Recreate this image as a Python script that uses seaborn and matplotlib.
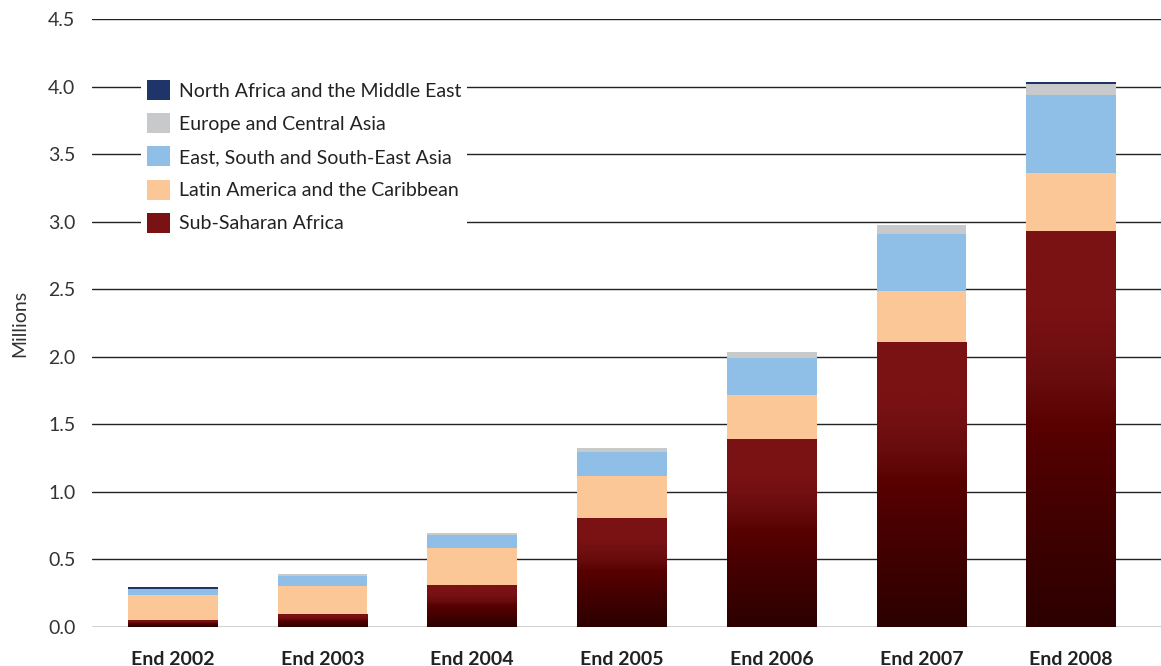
import numpy as np
import pandas as pd
import matplotlib
matplotlib.use("Agg")
import matplotlib.pyplot as plt
import seaborn as sns
from matplotlib.patches import Patch
from matplotlib.colors import LinearSegmentedColormap

# Datos (millones de personas)
periodos = ['End 2002', 'End 2003', 'End 2004', 'End 2005', 'End 2006', 'End 2007', 'End 2008']
africa_subsahariana = [0.050, 0.096, 0.306, 0.805, 1.385, 2.106, 2.924]
america_latina = [0.187, 0.210, 0.281, 0.316, 0.335, 0.378, 0.439]
asia_este_sur = [0.043, 0.074, 0.094, 0.175, 0.270, 0.427, 0.572]
europa_asia_central = [0.000, 0.013, 0.015, 0.030, 0.047, 0.062, 0.085]
africa_norte_medio_oriente = [0.014, 0.000, 0.000, 0.000, 0.000, 0.000, 0.017]

regiones = ['Sub-Saharan Africa', 'Latin America and the Caribbean',
            'East, South and South-East Asia', 'Europe and Central Asia',
            'North Africa and the Middle East']
colores = ['#7a1214', '#fcc797', '#8fbfe7', '#c8c9cb', '#1f3569']

Datos = pd.DataFrame({
    'periodo': periodos,
    regiones[0]: africa_subsahariana,
    regiones[1]: america_latina,
    regiones[2]: asia_este_sur,
    regiones[3]: europa_asia_central,
    regiones[4]: africa_norte_medio_oriente,
})

# Acumulados para apilar (se dibuja del total hacia abajo)
acumulado = Datos[regiones].cumsum(axis=1)

sns.set_style("white")
plt.rcParams['font.family'] = ['Lato', 'DejaVu Sans']

fig = plt.figure(figsize=(11.61, 6.66), dpi=100)
ax = fig.add_axes([92 / 1161, 1 - 627 / 666, 1 - 92 / 1161, (627 - 19) / 666])

for i in range(len(regiones) - 1, -1, -1):
    sns.barplot(x=Datos['periodo'], y=acumulado[regiones[i]], color=colores[i],
                saturation=1, width=0.6, ax=ax, zorder=2, linewidth=0, edgecolor='none')

# Degradado en Sub-Saharan Africa
cmap_ssa = LinearSegmentedColormap.from_list(
    'ssa', [(0.0, '#2c0000'), (0.2, '#3c0000'), (0.32, '#460000'), (0.5, '#570000'),
            (0.62, '#680c0e'), (0.8, '#7a1214'), (1.0, '#7a1214')], N=1024)
gradiente = np.linspace(0, 1, 1024).reshape(-1, 1)
for p in ax.patches[-len(periodos):]:
    x0, w, h = p.get_x(), p.get_width(), p.get_height()
    ax.imshow(gradiente, cmap=cmap_ssa, origin='lower', aspect='auto',
              extent=[x0, x0 + w, 0, h], zorder=3,
              interpolation='bilinear', interpolation_stage='rgba')

ax.set_xlim(-0.54, 6.6)
ax.set_ylim(0, 4.5)
ax.set_yticks(np.arange(0, 4.51, 0.5))
ax.set_yticklabels([f'{v:.1f}' for v in np.arange(0, 4.51, 0.5)])
ax.set_xticks(range(len(periodos)))
ax.set_xticklabels(periodos, fontweight='bold', fontsize=14, color='#222222')
ax.yaxis.grid(True, color='#222222', linewidth=1)
ax.set_axisbelow(True)
sns.despine(ax=ax, left=True, bottom=True, top=True, right=True)
ax.tick_params(axis='y', length=0, pad=12, labelsize=14, labelcolor='#333333')
ax.tick_params(axis='x', length=0, pad=17)
ax.set_xlabel('')
ax.set_ylabel('Millions', fontsize=14, color='#333333', labelpad=14)

# Leyenda
handles = [Patch(facecolor=colores[i], edgecolor='none') for i in range(len(regiones) - 1, -1, -1)]
etiquetas = [regiones[i] for i in range(len(regiones) - 1, -1, -1)]
leg = ax.legend(handles, etiquetas, loc='upper left', bbox_to_anchor=(0.037, 0.925),
                frameon=True, facecolor='white', edgecolor='none', framealpha=1,
                fontsize=14, handlelength=1.2, handleheight=1.2, labelspacing=0.68,
                handletextpad=0.45, borderpad=0.3, fancybox=False)
leg.set_zorder(5)
for t in leg.get_texts():
    t.set_color('#222222')

plt.savefig('out.png', dpi=100)
